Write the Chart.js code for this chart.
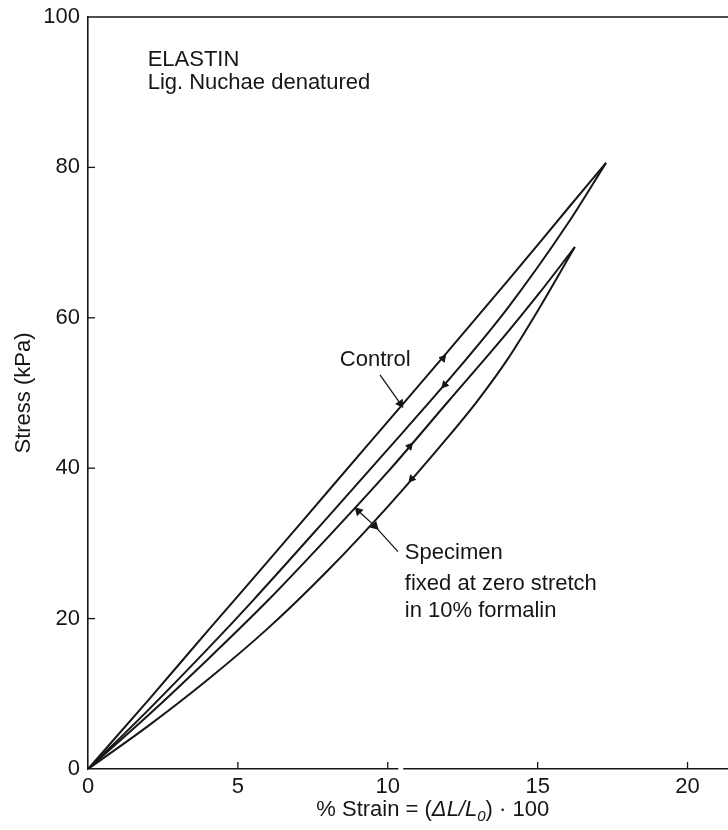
<!DOCTYPE html>
<html>
<head>
<meta charset="utf-8">
<title>Elastin – Lig. Nuchae denatured</title>
<script src="https://cdn.jsdelivr.net/npm/chart.js@4.4.1/dist/chart.umd.min.js"></script>
<style>
  html, body { margin: 0; padding: 0; background: #fff; }
  canvas { display: block; }
</style>
</head>
<body>
<canvas id="elastinChart" width="728" height="830"></canvas>
<script>
// Values: strain in %, stress in kPa
const ctrlLoadX   = [0, 2, 4, 6, 8, 10, 12, 14, 16, 17.28];
const ctrlLoadY   = [0, 9.1, 18.4, 27.6, 36.9, 46.2, 55.5, 64.9, 74.5, 80.6];
const ctrlUnloadX = [0, 2, 4, 5.5, 8, 10, 12, 14, 16, 17.28];
const ctrlUnloadY = [0, 7.8, 16.0, 22.4, 33.5, 42.5, 51.6, 61.3, 72.5, 80.6];
const specLoadX   = [0, 2, 4, 6, 8, 10, 12, 14, 15, 16.24];
const specLoadY   = [0, 7.1, 14.6, 22.4, 30.8, 39.5, 48.8, 58.1, 63.0, 69.4];
const specUnloadX = [0, 2, 4, 6, 8, 10, 12, 13, 14, 15, 16.24];
const specUnloadY = [0, 5.7, 11.9, 18.7, 26.4, 34.9, 44.1, 49.0, 54.5, 60.9, 69.4];

// direction markers on the four curves (up = loading, down = unloading)
const dirArrowX = [11.84, 11.9, 10.73, 10.8];
const dirArrowY = [54.6, 51.1, 42.9, 38.6];

// leader lines for the two labels
const controlLeadX  = [9.74, 10.42];
const controlLeadY  = [52.4, 48.6];
const specimenLeadX = [10.34, 9.57, 9.02];
const specimenLeadY = [28.9, 32.3, 34.3];

const xTickVals = [0, 5, 10, 15, 20];
const yTickVals = [0, 20, 40, 60, 80, 100];

const notes = [
    { text: 'ELASTIN', x: 1.99, y: 94.3 },
    { text: 'Lig. Nuchae denatured', x: 1.99, y: 91.2 },
    { text: 'Control', x: 8.4, y: 54.4 },
    { text: 'Specimen', x: 10.57, y: 28.7 },
    { text: 'fixed at zero stretch', x: 10.57, y: 24.6 },
    { text: 'in 10% formalin', x: 10.57, y: 21.0 }
];

const ink = '#161616';
const fontFamily = '"Liberation Sans", Arial, Helvetica, sans-serif';
const fontSize = 22;

function pts(xs, ys) {
    return xs.map((x, i) => ({ x: x, y: ys[i] }));
}

function curve(xs, ys) {
    return {
        data: pts(xs, ys),
        showLine: true,
        borderColor: ink,
        borderWidth: 2,
        pointRadius: 0,
        cubicInterpolationMode: 'monotone',
        fill: false
    };
}

// axis frame extras: top line, inward ticks, break in the x axis, rich x title, notes
const paperPlugin = {
    id: 'paper',
    afterDraw(chart) {
        const { ctx, chartArea: a, scales: { x, y } } = chart;
        ctx.save();
        ctx.strokeStyle = ink;
        ctx.lineWidth = 1.6;

        ctx.beginPath();
        ctx.moveTo(a.left, a.top);
        ctx.lineTo(a.right, a.top);
        ctx.stroke();

        ctx.lineWidth = 1.3;
        xTickVals.slice(1).forEach(v => {
            const px = x.getPixelForValue(v);
            ctx.beginPath();
            ctx.moveTo(px, a.bottom);
            ctx.lineTo(px, a.bottom - 7);
            ctx.stroke();
        });
        yTickVals.slice(1, -1).forEach(v => {
            const py = y.getPixelForValue(v);
            ctx.beginPath();
            ctx.moveTo(a.left, py);
            ctx.lineTo(a.left + 7, py);
            ctx.stroke();
        });

        // small gap in the x axis line, as in the print
        ctx.fillStyle = '#fff';
        const g0 = x.getPixelForValue(10.35);
        ctx.fillRect(g0, a.bottom - 2, 5, 4);

        // x axis title with italic part
        ctx.fillStyle = ink;
        ctx.textBaseline = 'alphabetic';
        const up = fontSize + 'px ' + fontFamily;
        const it = 'italic ' + fontSize + 'px ' + fontFamily;
        const sub = 'italic 15px ' + fontFamily;
        const parts = [
            { t: '% Strain = (', f: up, dy: 0 },
            { t: '\u0394L/L', f: it, dy: 0 },
            { t: '0', f: sub, dy: 5 },
            { t: ')', f: up, dy: 0 },
            { t: ' \u00b7 100', f: up, dy: 0 }
        ];
        let total = 0;
        parts.forEach(p => { ctx.font = p.f; p.w = ctx.measureText(p.t).width; total += p.w; });
        let cx = x.getPixelForValue(11.5) - total / 2;
        const base = 816;
        parts.forEach(p => {
            ctx.font = p.f;
            ctx.fillText(p.t, cx, base + p.dy);
            cx += p.w;
        });

        // notes
        ctx.font = fontSize + 'px ' + fontFamily;
        ctx.textBaseline = 'middle';
        ctx.textAlign = 'left';
        notes.forEach(n => {
            ctx.fillText(n.text, x.getPixelForValue(n.x), y.getPixelForValue(n.y));
        });
        ctx.restore();
    }
};

new Chart(document.getElementById('elastinChart'), {
    type: 'scatter',
    data: {
        datasets: [
            curve(ctrlLoadX, ctrlLoadY),
            curve(ctrlUnloadX, ctrlUnloadY),
            curve(specLoadX, specLoadY),
            curve(specUnloadX, specUnloadY),
            {
                data: pts(dirArrowX, dirArrowY),
                showLine: false,
                pointStyle: 'triangle',
                rotation: [41, 221, 41, 221],
                pointRadius: 4,
                backgroundColor: ink,
                borderColor: ink,
                borderWidth: 1
            },
            {
                data: pts(controlLeadX, controlLeadY),
                showLine: true,
                borderColor: ink,
                borderWidth: 1.3,
                pointStyle: 'triangle',
                rotation: [0, 146],
                pointRadius: [0, 4],
                backgroundColor: ink
            },
            {
                data: pts(specimenLeadX, specimenLeadY),
                showLine: true,
                borderColor: ink,
                borderWidth: 1.3,
                pointStyle: 'triangle',
                rotation: [0, 135, 315],
                pointRadius: [0, 4, 4],
                backgroundColor: ink
            }
        ]
    },
    options: {
        responsive: false,
        animation: false,
        layout: {
            autoPadding: false,
            padding: { top: 17, right: 0, left: 0, bottom: 0 }
        },
        plugins: {
            legend: { display: false },
            tooltip: { enabled: false }
        },
        scales: {
            x: {
                type: 'linear',
                min: 0,
                max: 21.35,
                afterFit: s => {
                    s.height = 61;
                    s.paddingLeft = 0;
                    s.paddingRight = 0;
                },
                afterBuildTicks: s => { s.ticks = xTickVals.map(v => ({ value: v })); },
                grid: { display: false, drawTicks: false },
                border: { display: true, color: ink, width: 1.6 },
                ticks: {
                    color: ink,
                    padding: 5,
                    font: { family: fontFamily, size: fontSize },
                    maxRotation: 0
                }
            },
            y: {
                type: 'linear',
                min: 0,
                max: 100,
                afterFit: s => {
                    s.width = 88;
                    s.paddingTop = 0;
                    s.paddingBottom = 0;
                },
                afterBuildTicks: s => { s.ticks = yTickVals.map(v => ({ value: v })); },
                grid: { display: false, drawTicks: false },
                border: { display: true, color: ink, width: 1.6 },
                title: {
                    display: true,
                    text: 'Stress (kPa)',
                    color: ink,
                    font: { family: fontFamily, size: fontSize },
                    padding: { top: 11, bottom: 0 }
                },
                ticks: {
                    color: ink,
                    padding: 8,
                    font: { family: fontFamily, size: fontSize }
                }
            }
        }
    },
    plugins: [paperPlugin]
});
</script>
</body>
</html>
